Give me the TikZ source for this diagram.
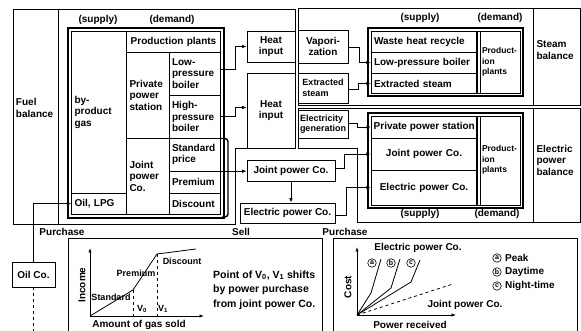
\documentclass[tikz,border=0pt]{standalone}
\usepackage{fontspec}
\setmainfont{Liberation Sans}
\usetikzlibrary{arrows.meta}
\begin{document}
\begin{tikzpicture}[x=1pt,y=-1pt,
  font=\fontsize{10}{11.5}\selectfont\bfseries,
  every node/.style={inner sep=0pt},
  ln/.style={line width=0.8pt},
  thk/.style={line width=1.4pt},
  thn/.style={line width=0.6pt},
  arr/.style={line width=0.8pt,-{Latex[length=4.5pt,width=3.5pt]}},
  cl/.style={inner xsep=3pt,align=left,text width=#1},
  cc/.style={inner xsep=3pt,align=center,text width=#1},
  box/.style={draw,line width=0.8pt,align=center},
  sm/.style={font=\fontsize{9}{10.5}\selectfont\bfseries},
  circ/.style={circle,draw,line width=0.6pt,inner sep=0pt,minimum size=8.5pt,font=\fontsize{7}{7}\selectfont\bfseries},
]
\useasboundingbox (0,0) rectangle (581,331);

% ---------- frames ----------
\draw[ln] (13,9) -- (295,9) -- (295,148) -- (235,148) -- (235,224) -- (13,224) -- cycle;
\draw[ln] (58,9) -- (58,224);
\draw[ln] (298,8) rectangle (580,105);
\draw[ln] (533,8) -- (533,105);
\draw[ln] (298,108) -- (580,108) -- (580,222) -- (357,222) -- (357,148) -- (298,148) -- cycle;
\draw[ln] (533,108) -- (533,222);

\node[cl=39pt] (fuelbal) at (35.5,108) {Fuel\\balance};
\node[cl=40pt] (steambal) at (556.5,50) {Steam\\balance};
\node[cl=40pt] (elecbal) at (556.5,160) {Electric\\power\\balance};

% ---------- fuel box ----------
\node (fsup) at (98,20) {(supply)};
\node (fdem) at (172,20) {(demand)};
\draw[thk] (68,28) rectangle (224,218);
\draw[thn] (71.5,31.5) rectangle (220.5,214.5);
\draw[thn] (126.5,31.5) -- (126.5,214.5);
\draw[thn] (71.5,193) -- (126.5,193);
\draw[thn] (126.5,52) -- (220.5,52);
\draw[thn] (169,52) -- (169,214.5);
\draw[thn] (169,95) -- (220.5,95);
\draw[thn] (126.5,138) -- (220.5,138);
\draw[thn] (169,171) -- (220.5,171);
\draw[thn] (169,193) -- (220.5,193);
\draw[thk,rounded corners=3pt] (220,138.5) -- (228,138.5) -- (228,217) -- (222,217);

\node[cl=49pt,minimum height=161.5pt] (byp) at (99,112.25) {by-\\product\\gas};
\node[cl=49pt,minimum height=21.5pt] (oil) at (99,203.75) {Oil, LPG};
\node[cc=88pt,minimum height=20.5pt] (prod) at (173.5,41.75) {Production plants};
\node[cl=36.5pt,minimum height=86pt] (priv) at (147.75,95) {Private\\power\\station};
\node[cl=45.5pt,minimum height=43pt] (lowp) at (194.75,73.5) {Low-\\pressure\\boiler};
\node[cl=45.5pt,minimum height=43pt] (highp) at (194.75,116.5) {High-\\pressure\\boiler};
\node[cl=36.5pt,minimum height=76.5pt] (jpc) at (147.75,176.25) {Joint\\power\\Co.};
\node[cl=45.5pt,minimum height=33pt] (std) at (194.75,154.5) {Standard\\price};
\node[cl=45.5pt,minimum height=22pt] (prem) at (194.75,182) {Premium};
\node[cl=45.5pt,minimum height=21.5pt] (disc) at (194.75,203.75) {Discount};

% ---------- middle boxes ----------
\node[box,minimum width=48pt,minimum height=31pt] (heat1) at (271,46.5) {Heat\\input};
\node[box,minimum width=48pt,minimum height=75pt] (heat2) at (271,110.5) {Heat\\input};
\node[box,minimum width=50pt,minimum height=33pt] (vap) at (323,46.5) {Vapori-\\zation};
\node[box,sm,minimum width=50pt,minimum height=30pt,align=left] (exs) at (323,88) {Extracted\\steam};
\node[box,sm,minimum width=50pt,minimum height=28pt,align=left] (elg) at (323,124) {Electricity\\generation};
\node[box,minimum width=88pt,minimum height=21pt] (jbox) at (291,170.5) {Joint power Co.};
\node[box,minimum width=95pt,minimum height=20pt] (ebox) at (287.5,213) {Electric power Co.};

% ---------- steam box ----------
\node (ssup) at (420,18) {(supply)};
\node (sdem) at (500,18) {(demand)};
\draw[thk] (368,28) rectangle (523,96);
\draw[thn] (371,31) rectangle (520,93);
\draw[thk] (477,31) -- (477,93);
\draw[thn] (480.5,31) -- (480.5,93);
\draw[thn] (371,52) -- (477,52);
\draw[thn] (371,73) -- (477,73);
\node[cl=100pt,minimum height=21pt] (wh) at (424,41.5) {Waste heat recycle};
\node[cl=100pt,minimum height=21pt] (lpb) at (424,62.5) {Low-pressure boiler};
\node[cl=100pt,minimum height=20pt] (exr) at (424,83.5) {Extracted steam};
\node[cl=38pt,font=\fontsize{8.5}{10.5}\selectfont\bfseries] (sprod) at (501,62) {Product-\\ion\\plants};

% ---------- electric box ----------
\node (esup) at (420,214) {(supply)};
\node (edem) at (497,214) {(demand)};
\draw[thk] (368,113) rectangle (523,208);
\draw[thn] (371,116) rectangle (520,205);
\draw[thk] (477,116) -- (477,205);
\draw[thn] (480.5,116) -- (480.5,205);
\draw[thn] (371,138) -- (477,138);
\draw[thn] (371,170) -- (477,170);
\node[inner xsep=2.5pt,minimum height=22pt,anchor=west] (pps) at (371,127) {Private power station};
\node[cc=100pt,minimum height=32pt] (jpr) at (424,154) {Joint power Co.};
\node[cc=100pt,minimum height=35pt] (epr) at (424,187.5) {Electric power Co.};
\node[cl=38pt,font=\fontsize{8.5}{10.5}\selectfont\bfseries] (eprod) at (501,160) {Product-\\ion\\plants};

% ---------- connectors ----------
\draw[arr] ([yshift=4pt]lowp.east) -- ++(15,0) |- (heat1.west);
\draw[arr] (highp.east) -- ++(15,0) |- ([yshift=3pt]heat2.west);
\draw[arr] (std.south east) -- (std.south east -| jbox.west);
\draw[arr] ([yshift=-1pt]vap.east) -- ++(11,0) |- (lpb.west);
\draw[arr] ([yshift=-1pt]exs.east) -- ++(10,0) |- (exr.west);
\draw[arr] ([yshift=1pt]elg.east) -- ++(9,0) |- (pps.west);
\draw[arr] ([yshift=2pt]jbox.east) -- ++(9,0) |- (jpr.west);
\draw[arr] ([yshift=-2pt]ebox.east) -- ++(11,0) |- (epr.west);
\draw[arr] (jbox.south) -- (jbox.south |- ebox.north);

% ---------- oil company ----------
\node[box,minimum width=43pt,minimum height=25pt] (oilco) at (33.5,274.5) {Oil Co.};
\draw[arr] (oilco.north) |- (oil.west);
\draw[ln,dashed] (oilco.south) -- (oilco.south |- 0,335);

\node (pur1) at (62,232) {Purchase};
\node (sell) at (241,232) {Sell};
\node (pur2) at (345,232) {Purchase};

% ---------- left graph ----------
\draw[ln] (68,340) -- (68,238) -- (322,238) -- (322,340);
\coordinate (o1) at (90,316);
\draw[ln,-{Latex[length=4.5pt,width=3.5pt]}] (o1) -- (90,248);
\draw[ln,-{Latex[length=4.5pt,width=3.5pt]}] (o1) -- (204,316);
\draw[ln] (o1) -- (133,290) -- (157,254) -- (196,249);
\draw[thn,dashed] (133,290) -- (133,316);
\draw[thn,dashed] (157,254) -- (157,316);
\node[rotate=90] (income) at (82,285) {Income};
\node[sm] (lstd) at (111,297) {Standard};
\node[sm] (lprem) at (136,273) {Premium};
\node[sm] (ldisc) at (182,261) {Discount};
\node[sm] (v0) at (142,309) {V$_\mathbf{0}$};
\node[sm] (v1) at (163,309) {V$_\mathbf{1}$};
\node (amt) at (139,325) {Amount of gas sold};
\node[align=left,anchor=west,font=\fontsize{10.5}{14.5}\selectfont\bfseries] (shift) at (213,290)
  {Point of V$_\mathbf{0}$, V$_\mathbf{1}$ shifts\\by power purchase\\from joint power Co.};

% ---------- right graph ----------
\draw[ln] (333,340) -- (333,238) -- (577,238) -- (577,340);
\coordinate (o2) at (357,315);
\draw[ln,-{Latex[length=4.5pt,width=3.5pt]}] (o2) -- (357,247);
\draw[ln,-{Latex[length=4.5pt,width=3.5pt]}] (o2) -- (456,315);
\draw[ln] (o2) -- (371,293) -- (381,259);
\draw[ln] (o2) -- (391,288) -- (400,259);
\draw[ln] (o2) -- (411,282) -- (420,260);
\draw[ln,dashed] (o2) -- (453,284);
\node[circ] (ca) at (372,263) {a};
\node[circ] (cb) at (391,263) {b};
\node[circ] (cc) at (411,263) {c};
\node[rotate=90] (cost) at (348,287) {Cost};
\node (epc) at (418,248) {Electric power Co.};
\node (jpcg) at (465,305) {Joint power Co.};
\node (prec) at (410,325) {Power received};
\node[circ] (la) at (497,258) {a};
\node[circ] (lb) at (497,272) {b};
\node[circ] (lc) at (497,286) {c};
\node[anchor=west] (peak) at (505,258) {Peak};
\node[anchor=west] (day) at (505,272) {Daytime};
\node[anchor=west] (night) at (505,286) {Night-time};
\end{tikzpicture}
\end{document}
